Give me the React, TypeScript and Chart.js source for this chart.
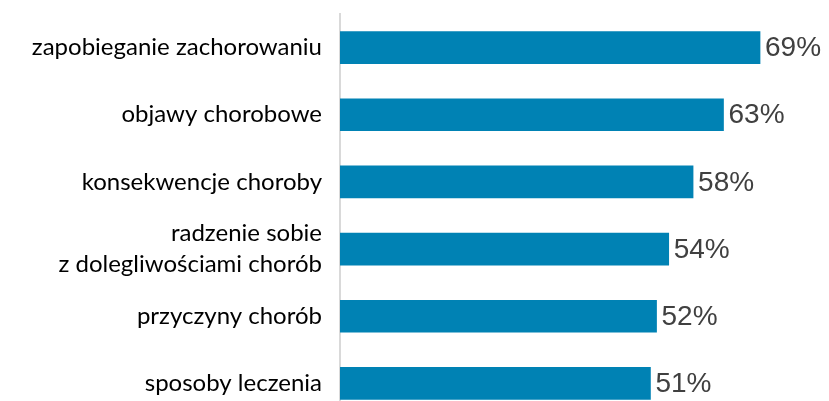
import React, { useEffect, useRef } from "react";
import { Chart, registerables } from "chart.js";

Chart.register(...registerables);

const categories: (string | string[])[] = [
  "zapobieganie zachorowaniu",
  "objawy chorobowe",
  "konsekwencje choroby",
  ["radzenie sobie", "z dolegliwościami chorób"],
  "przyczyny chorób",
  "sposoby leczenia",
];
const values: number[] = [69, 63, 58, 54, 52, 51];
const valueLabels: string[] = ["69%", "63%", "58%", "54%", "52%", "51%"];

const barColor = "#0082B4";

const valueLabelPlugin = {
  id: "valueLabels",
  afterDatasetsDraw(chart: any) {
    const ctx = chart.ctx;
    const meta = chart.getDatasetMeta(0);
    ctx.save();
    ctx.font = "28px 'Liberation Sans', Arial, sans-serif";
    ctx.fillStyle = "#404040";
    ctx.textAlign = "left";
    ctx.textBaseline = "middle";
    meta.data.forEach((bar: any, i: number) => {
      ctx.fillText(valueLabels[i], bar.x + 5, bar.y + 1);
    });
    ctx.restore();
  },
};

export default function App() {
  const ref = useRef<HTMLCanvasElement>(null);
  useEffect(() => {
    document.body.style.margin = "0";
    document.body.style.overflow = "hidden";
    const chart = new Chart(ref.current!, {
      type: "bar",
      data: {
        labels: categories,
        datasets: [
          {
            data: values,
            backgroundColor: barColor,
            barThickness: 32,
          },
        ],
      },
      options: {
        indexAxis: "y",
        animation: false,
        responsive: false,
        maintainAspectRatio: false,
        layout: { padding: { top: 14, bottom: 3, right: 2, left: 0 } },
        plugins: {
          legend: { display: false },
          tooltip: { enabled: false },
        },
        scales: {
          x: {
            display: false,
            min: 0,
            max: 80,
          },
          y: {
            grid: { display: false, drawTicks: false },
            border: { display: true, color: "#d9d9d9", width: 2 },
            afterFit(scale: any) {
              scale.width = 340;
              scale.paddingTop = 0;
              scale.paddingBottom = 0;
            },
            ticks: {
              padding: 18,
              color: "#000000",
              font: { family: "Lato", size: 24, lineHeight: 1.3 },
            },
          },
        },
      },
      plugins: [valueLabelPlugin],
    });
    return () => chart.destroy();
  }, []);
  return (
    <div style={{ width: 829, height: 401, overflow: "hidden" }}>
      <canvas ref={ref} width={829} height={420} style={{ display: "block" }} />
    </div>
  );
}
